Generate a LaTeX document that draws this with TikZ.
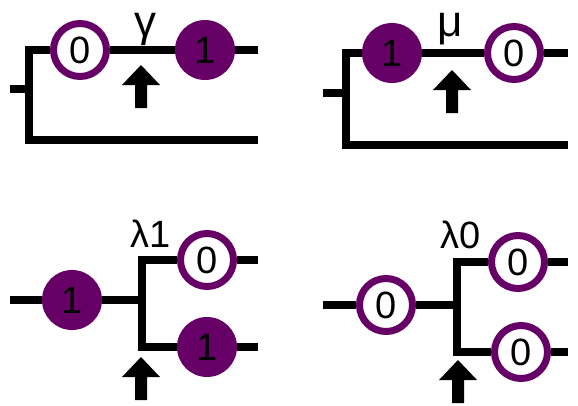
\documentclass[tikz,border=0pt]{standalone}
\usepackage{fontspec}
\setmainfont{Liberation Sans}
\usepackage{tikz}
\usetikzlibrary{calc}
\definecolor{plum}{RGB}{102,0,102}
\tikzset{
  wire/.style={line width=8pt, color=black},
  bitfont/.style={font=\fontsize{38}{38}\selectfont},
  zero/.style={circle, draw=plum, line width=7pt, fill=white,
    minimum size=53pt, inner sep=0pt, bitfont},
  one/.style={circle, fill=plum, minimum size=60pt, inner sep=0pt, bitfont},
  lbl/.style={anchor=base, inner sep=0pt, bitfont},
  uparr/.pic={\fill (0,0) -- (19,20) -- (6,20) -- (6,43) -- (-6,43)
    -- (-6,20) -- (-19,20) -- cycle;},
}

\begin{document}
\begin{tikzpicture}[x=1pt, y=-1pt]
  \useasboundingbox (0,0) rectangle (578,405);

  % gamma: 0 ... 1
  \node[zero] (g0) at (80,50)  {0};
  \node[one]  (g1) at (205,50) {1};
  \coordinate (gTR) at (258,50);  \coordinate (gBR) at (258,140);
  \coordinate (gTL) at (29,50);   \coordinate (gBL) at (29,140);
  \coordinate (gIn) at (10,89);   \coordinate (gMid) at (29,89);
  \draw[wire] (gTR) -- (g1) (g1) -- (g0) (g0) -- (gTL) -- (gBL) -- (gBR);
  \draw[wire] (gIn) -- (gMid);
  \node[lbl, font=\fontsize{44}{44}\selectfont] (gLbl) at (145,36) {γ};
  \pic at (141,65) {uparr};

  % mu: 1 ... 0
  \node[one]  (m1) at (392,53) {1};
  \node[zero] (m0) at (514,53) {0};
  \coordinate (mTR) at (568,53);  \coordinate (mBR) at (568,145);
  \coordinate (mTL) at (346,53);  \coordinate (mBL) at (346,145);
  \coordinate (mIn) at (323,93);  \coordinate (mMid) at (346,93);
  \draw[wire] (mTR) -- (m0) (m0) -- (m1) (m1) -- (mTL) -- (mBL) -- (mBR);
  \draw[wire] (mIn) -- (mMid);
  \node[lbl, font=\fontsize{44}{44}\selectfont] (mLbl) at (450,36) {μ};
  \pic at (452,70) {uparr};

  % lambda1: split of a 1
  \node[one]  (a1)  at (72,300)  {1};
  \node[zero] (aT0) at (207,260) {0};
  \node[one]  (aB1) at (207,347) {1};
  \coordinate (aIn) at (10,300);   \coordinate (aMid) at (142,300);
  \coordinate (aTL) at (142,260);  \coordinate (aBL) at (142,347);
  \coordinate (aTR) at (258,260);  \coordinate (aBR) at (258,347);
  \draw[wire] (aIn) -- (a1) (a1) -- (aMid);
  \draw[wire] (aT0) -- (aTL) -- (aBL) -- (aB1);
  \draw[wire] (aT0) -- (aTR) (aB1) -- (aBR);
  \node[lbl] (aLbl) at (151,247) {λ1};
  \pic at (141,357) {uparr};

  % lambda0: split of a 0
  \node[zero] (b0)  at (386,305) {0};
  \node[zero] (bT0) at (518,262) {0};
  \node[zero] (bB0) at (521,352) {0};
  \coordinate (bIn) at (323,305);  \coordinate (bMid) at (457,305);
  \coordinate (bTL) at (457,262);  \coordinate (bBL) at (457,352);
  \coordinate (bTR) at (568,262);  \coordinate (bBR) at (568,352);
  \draw[wire] (bIn) -- (b0) (b0) -- (bMid);
  \draw[wire] (bT0) -- (bTL) -- (bBL) -- (bB0);
  \draw[wire] (bT0) -- (bTR) (bB0) -- (bBR);
  \node[lbl] (bLbl) at (461,248) {λ0};
  \pic at (458,360) {uparr};
\end{tikzpicture}
\end{document}
